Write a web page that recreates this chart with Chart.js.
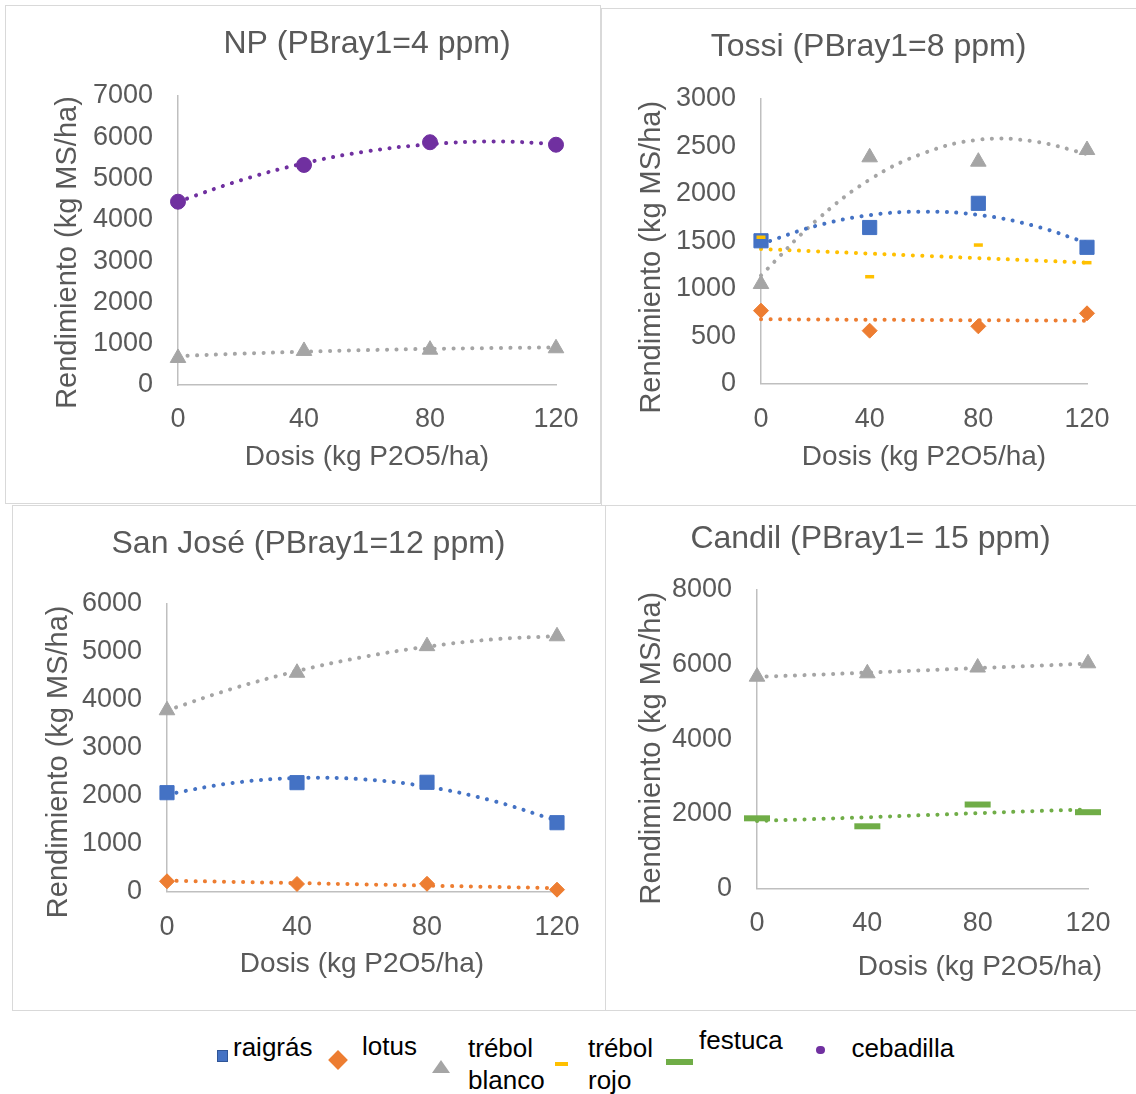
<!DOCTYPE html>
<html>
<head>
<meta charset="utf-8">
<script src="https://cdn.jsdelivr.net/npm/chart.js@4"></script>
<style>
  body { margin: 0; background: #fff; width: 1136px; height: 1094px; position: relative; overflow: hidden; font-family: "Liberation Sans", Arial, sans-serif; }
  canvas { position: absolute; }
  .box { position: absolute; box-sizing: border-box; border: 1.5px solid #d9d9d9; pointer-events: none; }
  .lg { position: absolute; font-size: 26px; line-height: 32px; color: #000; white-space: nowrap; }
  .mk { position: absolute; }
</style>
</head>
<body>
<div class="box" style="left:5px;top:5px;width:596px;height:499px"></div>
<div class="box" style="left:601px;top:8px;width:545px;height:498px"></div>
<div class="box" style="left:12px;top:505px;width:594px;height:506px"></div>
<div class="box" style="left:605px;top:505px;width:545px;height:506px"></div>

<canvas id="np" width="595" height="498" style="left:5px;top:5px"></canvas>
<canvas id="tossi" width="535" height="497" style="left:601px;top:8px"></canvas>
<canvas id="sanjose" width="593" height="505" style="left:12px;top:505px"></canvas>
<canvas id="candil" width="531" height="505" style="left:605px;top:505px"></canvas>

<!-- legend -->
<div class="mk" style="left:217px;top:1050px;width:11px;height:12px;background:#4472c4;box-sizing:border-box;border:1.5px solid #2f5597"></div>
<div class="lg" style="left:233px;top:1031px">raigrás</div>
<div class="mk" style="left:330.5px;top:1053px;width:14px;height:14px;background:#ed7d31;transform:rotate(45deg)"></div>
<div class="lg" style="left:362px;top:1030px">lotus</div>
<div class="mk" style="left:432px;top:1060px;width:0;height:0;border-left:9px solid transparent;border-right:9px solid transparent;border-bottom:13px solid #a5a5a5"></div>
<div class="lg" style="left:468px;top:1032px">trébol<br>blanco</div>
<div class="mk" style="left:555px;top:1062px;width:13px;height:3.5px;background:#ffc000"></div>
<div class="lg" style="left:588px;top:1032px">trébol<br>rojo</div>
<div class="mk" style="left:666px;top:1059px;width:26.5px;height:6px;background:#70ad47"></div>
<div class="lg" style="left:699px;top:1024px">festuca</div>
<div class="mk" style="left:816px;top:1045.5px;width:8.5px;height:8.5px;border-radius:50%;background:#7030a0"></div>
<div class="lg" style="left:851.5px;top:1032px">cebadilla</div>

<script>
// dosis de P2O5 (kg/ha) medidas y puntos de lectura de las líneas de tendencia
const doses = [0, 40, 80, 120];
const trendDoses = [0, 20, 40, 60, 80, 100, 120];

// NP (PBray1=4 ppm)
const npCebadilla = [4440, 5330, 5880, 5820];
const npCebadillaTrend = [4440, 4960, 5370, 5660, 5830, 5900, 5840];
const npTrebolBlanco = [655, 825, 855, 890];
const npTrebolBlancoTrend = [700, 760, 805, 845, 875, 895, 910];

// Tossi (PBray1=8 ppm)
const tossiRaigras = [1505, 1645, 1900, 1436];
const tossiRaigrasTrend = [1470, 1660, 1775, 1812, 1778, 1667, 1482];
const tossiLotus = [768, 557, 603, 740];
const tossiLotusTrend = [677, 675, 672, 670, 667, 665, 662];
const tossiTrebolBlanco = [1049, 2385, 2339, 2462];
const tossiTrebolBlancoTrend = [1140, 1710, 2150, 2430, 2570, 2555, 2420];
const tossiTrebolRojo = [1542, 1126, 1460, 1274];
const tossiTrebolRojoTrend = [1418, 1394, 1370, 1346, 1322, 1298, 1274];

// San José (PBray1=12 ppm)
const sjRaigras = [2065, 2274, 2282, 1439];
const sjRaigrasTrend = [2030, 2265, 2370, 2345, 2190, 1900, 1480];
const sjLotus = [217, 161, 165, 42];
const sjLotusTrend = [230, 205, 180, 153, 127, 100, 75];
const sjTrebolBlanco = [3784, 4566, 5121, 5327];
const sjTrebolBlancoTrend = [3780, 4230, 4600, 4890, 5110, 5260, 5330];

// Candil (PBray1= 15 ppm)
const candilTrebolBlanco = [5675, 5766, 5921, 6034];
const candilTrebolBlancoTrend = [5670, 5725, 5785, 5845, 5905, 5965, 6025];
const candilFestuca = [1877, 1663, 2247, 2041];
const candilFestucaTrend = [1805, 1855, 1905, 1960, 2015, 2070, 2115];

const colors = {
  raigras: '#4472c4',
  lotus: '#ed7d31',
  blanco: '#a5a5a5',
  rojo: '#ffc000',
  festuca: '#70ad47',
  cebadilla: '#7030a0',
};

const markerStyles = {
  raigras: { pointStyle: 'rect', pointRadius: 10, pointBorderWidth: 1 },
  lotus: { pointStyle: 'rectRot', pointRadius: 7.5, pointBorderWidth: 1 },
  blanco: { pointStyle: 'triangle', pointRadius: 9, pointBorderWidth: 1 },
  rojo: { pointStyle: 'line', pointRadius: 4.5, pointBorderWidth: 3.5 },
  festuca: { pointStyle: 'line', pointRadius: 13, pointBorderWidth: 6 },
  cebadilla: { pointStyle: 'circle', pointRadius: 7.5, pointBorderWidth: 1 },
};

Chart.defaults.font.family = '"Liberation Sans", Arial, sans-serif';
Chart.defaults.color = '#595959';

const markers = (key, values) => Object.assign({
  label: key,
  data: doses.map((x, i) => ({ x: x, y: values[i] })),
  showLine: false,
  backgroundColor: colors[key],
  borderColor: colors[key],
  pointBackgroundColor: colors[key],
  pointBorderColor: colors[key],
  clip: false,
}, markerStyles[key]);

const trend = (key, values) => ({
  label: key + ' tendencia',
  data: trendDoses.map((x, i) => ({ x: x, y: values[i] })),
  showLine: true,
  pointRadius: 0,
  borderColor: colors[key],
  borderWidth: 4,
  borderDash: [0.1, 9.4],
  borderCapStyle: 'round',
  tension: 0.4,
  clip: false,
});

// moves an axis title a few pixels (Excel does not centre them exactly)
const shiftTitle = (s, dx, dy) => {
  if (s._titleShifted || (!dx && !dy)) return;
  const orig = s.drawTitle;
  s.drawTitle = function () {
    this.ctx.save();
    this.ctx.translate(dx, dy);
    orig.call(this);
    this.ctx.restore();
  };
  s._titleShifted = true;
};

const makeOptions = cfg => ({
  responsive: false,
  animation: false,
  events: [],
  layout: { padding: 0 },
  plugins: {
    legend: { display: false },
    tooltip: { enabled: false },
    title: {
      display: true,
      text: cfg.title,
      fullSize: cfg.titleFull,
      color: '#595959',
      font: { size: 32, weight: 'normal' },
      padding: { top: cfg.titleTop, bottom: cfg.titleBottom },
    },
  },
  scales: {
    x: {
      type: 'linear',
      min: 0,
      max: 120,
      grid: { display: false },
      border: { display: true, color: '#bfbfbf', width: 1.5 },
      ticks: { stepSize: 40, padding: cfg.xTickPad, font: { size: 27 }, color: '#595959' },
      title: {
        display: true,
        text: 'Dosis (kg P2O5/ha)',
        align: cfg.xTitleAlign || 'center',
        color: '#595959',
        font: { size: 28 },
        padding: { top: 0, bottom: cfg.xTitlePad },
      },
      afterFit: s => { s.height = cfg.xHeight; shiftTitle(s, cfg.xTitleShift || 0, 0); },
    },
    y: {
      min: 0,
      max: cfg.yMax,
      grid: { display: false },
      border: { display: true, color: '#bfbfbf', width: 1.5 },
      ticks: {
        stepSize: cfg.yStep, padding: 17, font: { size: 27 }, color: '#595959',
        callback: v => String(v),
      },
      title: {
        display: true,
        text: 'Rendimiento (kg MS/ha)',
        color: '#595959',
        font: { size: 29 },
        padding: { top: cfg.yTitlePad, bottom: 0 },
      },
      afterFit: s => { s.width = cfg.yWidth; shiftTitle(s, 0, cfg.yTitleShift); },
    },
    // empty right-hand axis, only reserves the space right of the plot
    spacer: {
      type: 'linear',
      position: 'right',
      grid: { display: false },
      border: { display: false },
      ticks: { display: false },
      afterFit: s => { s.width = cfg.padRight; },
    },
  },
});

new Chart(document.getElementById('np'), {
  type: 'scatter',
  data: {
    datasets: [
      markers('cebadilla', npCebadilla),
      markers('blanco', npTrebolBlanco),
      trend('cebadilla', npCebadillaTrend),
      trend('blanco', npTrebolBlancoTrend),
    ],
  },
  options: makeOptions({
    title: 'NP (PBray1=4 ppm)', titleFull: false, titleTop: 20.2, titleBottom: 32.4,
    padRight: 44, yWidth: 173, xHeight: 118, yTitlePad: 45.6, yTitleShift: 12,
    xTitlePad: 29.2, xTickPad: 10.5, yMax: 7000, yStep: 1000,
  }),
});

new Chart(document.getElementById('tossi'), {
  type: 'scatter',
  data: {
    datasets: [
      markers('rojo', tossiTrebolRojo),
      markers('blanco', tossiTrebolBlanco),
      markers('lotus', tossiLotus),
      markers('raigras', tossiRaigras),
      trend('raigras', tossiRaigrasTrend),
      trend('lotus', tossiLotusTrend),
      trend('blanco', tossiTrebolBlancoTrend),
      trend('rojo', tossiTrebolRojoTrend),
    ],
  },
  options: makeOptions({
    title: 'Tossi (PBray1=8 ppm)', titleFull: true, titleTop: 20.3, titleBottom: 32.3,
    padRight: 49, yWidth: 160, xHeight: 121.5, yTitlePad: 33.6, yTitleShift: 16,
    xTitlePad: 30.7, xTickPad: 12, yMax: 3000, yStep: 500,
  }),
});

new Chart(document.getElementById('sanjose'), {
  type: 'scatter',
  data: {
    datasets: [
      markers('blanco', sjTrebolBlanco),
      markers('lotus', sjLotus),
      markers('raigras', sjRaigras),
      trend('raigras', sjRaigrasTrend),
      trend('lotus', sjLotusTrend),
      trend('blanco', sjTrebolBlancoTrend),
    ],
  },
  options: makeOptions({
    title: 'San José (PBray1=12 ppm)', titleFull: true, titleTop: 20, titleBottom: 40.6,
    padRight: 48, yWidth: 155, xHeight: 118.3, yTitlePad: 29.6, yTitleShift: 14,
    xTitlePad: 29, xTickPad: 11.5, yMax: 6000, yStep: 1000,
  }),
});

new Chart(document.getElementById('candil'), {
  type: 'scatter',
  data: {
    datasets: [
      markers('festuca', candilFestuca),
      markers('blanco', candilTrebolBlanco),
      trend('blanco', candilTrebolBlancoTrend),
      trend('festuca', candilFestucaTrend),
    ],
  },
  options: makeOptions({
    title: 'Candil (PBray1= 15 ppm)', titleFull: true, titleTop: 15, titleBottom: 31.6,
    padRight: 48, yWidth: 152, xHeight: 121.7, yTitlePad: 29.6, yTitleShift: 9,
    xTitlePad: 25.7, xTickPad: 11.5, xTitleAlign: 'end', xTitleShift: 14,
    yMax: 8000, yStep: 2000,
  }),
});
</script>
</body>
</html>
